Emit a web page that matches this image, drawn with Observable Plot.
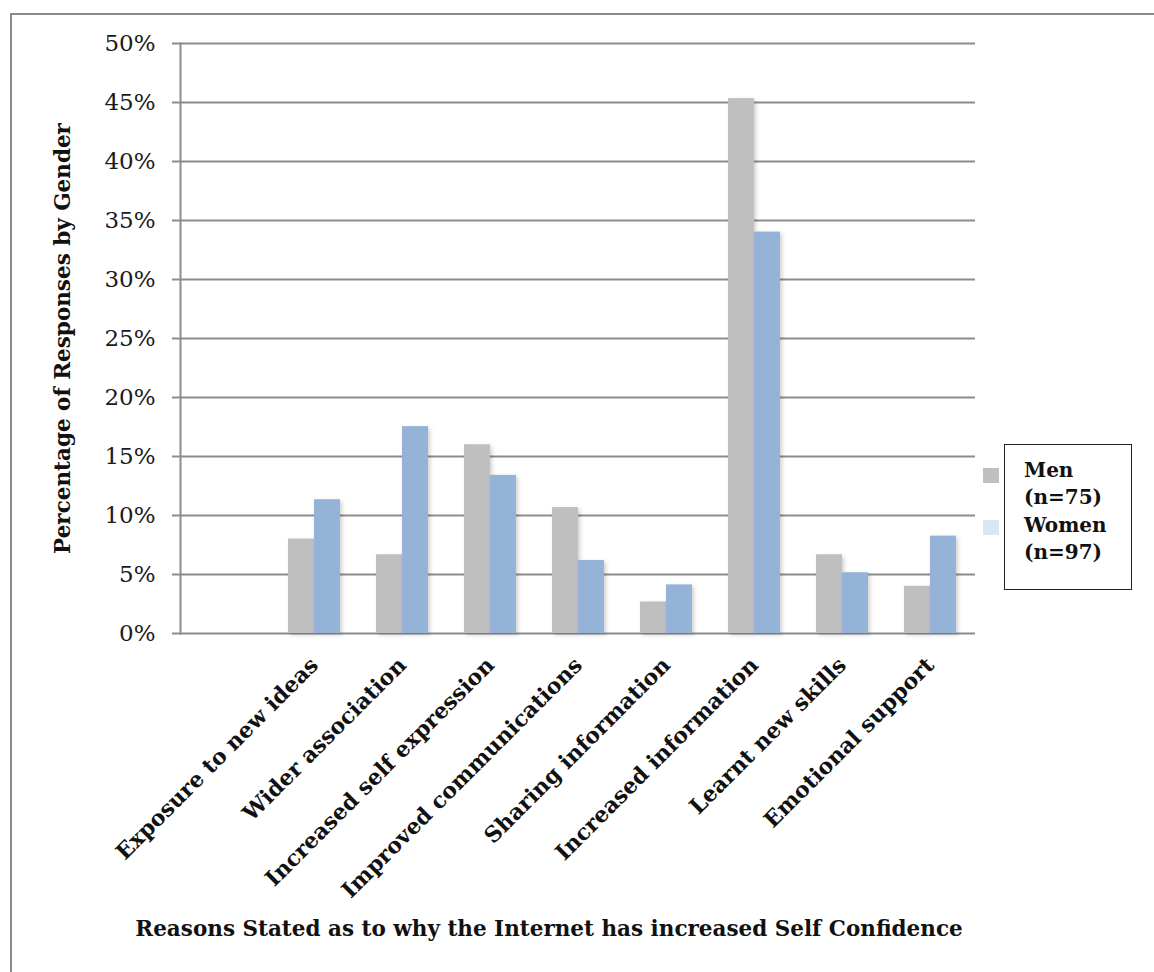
<!DOCTYPE html>
<html><head><meta charset="utf-8">
<script src="https://cdn.jsdelivr.net/npm/d3@7"></script>
<script src="https://cdn.jsdelivr.net/npm/@observablehq/plot@0.6"></script>
<style>
body{margin:0;background:#fff;}
#wrap{position:relative;width:1154px;height:972px;overflow:hidden;background:#fff}
#border{position:absolute;left:10px;top:13px;width:1160px;height:980px;border-top:2px solid #8a8a8a;border-left:2px solid #8a8a8a;box-sizing:border-box}
#chart{position:absolute;left:0;top:0}
.mk{position:absolute;width:16px;height:15px}
#lbox{position:absolute;left:1004px;top:444px;width:128px;height:146px;border:1.5px solid #222;box-sizing:border-box;padding:12px 0 0 19px;font-family:"DejaVu Serif";font-weight:bold;font-size:20px;line-height:27.3px;color:#111;background:#fff}
#lbox div{white-space:nowrap}
</style></head>
<body><div id="wrap"><div id="border"></div><div id="chart"></div></div>
<script>
const categories = ["Exposure to new ideas","Wider association","Increased self expression","Improved communications","Sharing information","Increased information","Learnt new skills","Emotional support"];
const men   = [8.00, 6.67, 16.00, 10.67, 2.67, 45.33, 6.67, 4.00];
const women = [11.34, 17.53, 13.40, 6.19, 4.12, 34.02, 5.15, 8.25];
const yTicks = [0, 5, 10, 15, 20, 25, 30, 35, 40, 45, 50];
const seriesNames = ["Men", "Women"];
const seriesN = [75, 97];
const seriesColors = ["#bfbfbf", "#95b3d7"];
const legendSwatch = ["#bfbfbf", "#dce6f2"];
const yTitle = "Percentage of Responses by Gender";
const xTitle = "Reasons Stated as to why the Internet has increased Self Confidence";

const menData = categories.map((c, i) => ({category: c, value: men[i]}));
const womenData = categories.map((c, i) => ({category: c, value: women[i]}));

const plot = Plot.plot({
  width: 1154, height: 972,
  marginLeft: 180, marginRight: 179, marginTop: 43, marginBottom: 339,
  style: {fontFamily: "DejaVu Serif", background: "transparent", color: "#1a1a1a"},
  x: {domain: ["", ...categories], padding: 0, label: null},
  y: {domain: [0, 50], label: null},
  marks: [
    Plot.ruleY(yTicks, {stroke: "#8c8c8c", strokeWidth: 2}),
    Plot.frame({anchor: "left", stroke: "#8c8c8c", strokeWidth: 2}),
    Plot.barY(menData, {x: "category", y: "value", fill: seriesColors[0], insetLeft: 18, insetRight: 44}),
    Plot.barY(womenData, {x: "category", y: "value", fill: seriesColors[1], insetLeft: 44, insetRight: 18}),
    Plot.axisY({ticks: yTicks, tickFormat: d => d + "%", tickSize: 8, tickPadding: 17, fontSize: 23, stroke: "#8c8c8c", strokeWidth: 2, fill: "#1a1a1a", label: null}),
    Plot.axisX({ticks: categories, tickSize: 0, tickRotate: -45, tickPadding: 28, fontSize: 22, fontWeight: "bold", fill: "#111", label: null}),
    Plot.text([yTitle], {text: d => d, frameAnchor: "left", textAnchor: "middle", rotate: -90, dx: -117, fontSize: 21.5, fontWeight: "bold", fill: "#111"}),
    Plot.text([xTitle], {text: d => d, frameAnchor: "bottom", textAnchor: "middle", dx: -29, dy: 302, fontSize: 21.5, fontWeight: "bold", fill: "#111"})
  ]
});
plot.querySelectorAll('g[aria-label="bar"]').forEach(g => g.style.filter = "drop-shadow(2px 2px 2px rgba(0,0,0,0.18))");
document.getElementById("chart").appendChild(plot);

const wrap = document.getElementById("wrap");
const swTops = [468, 520];
seriesNames.forEach((s, i) => {
  const m = document.createElement("div");
  m.className = "mk";
  m.style.left = "983px"; m.style.top = swTops[i] + "px"; m.style.background = legendSwatch[i];
  wrap.appendChild(m);
});
const box = document.createElement("div");
box.id = "lbox";
seriesNames.forEach((s, i) => {
  const a = document.createElement("div"); a.textContent = s; box.appendChild(a);
  const b = document.createElement("div"); b.textContent = "(n=" + seriesN[i] + ")"; box.appendChild(b);
});
wrap.appendChild(box);
</script>
</body></html>
